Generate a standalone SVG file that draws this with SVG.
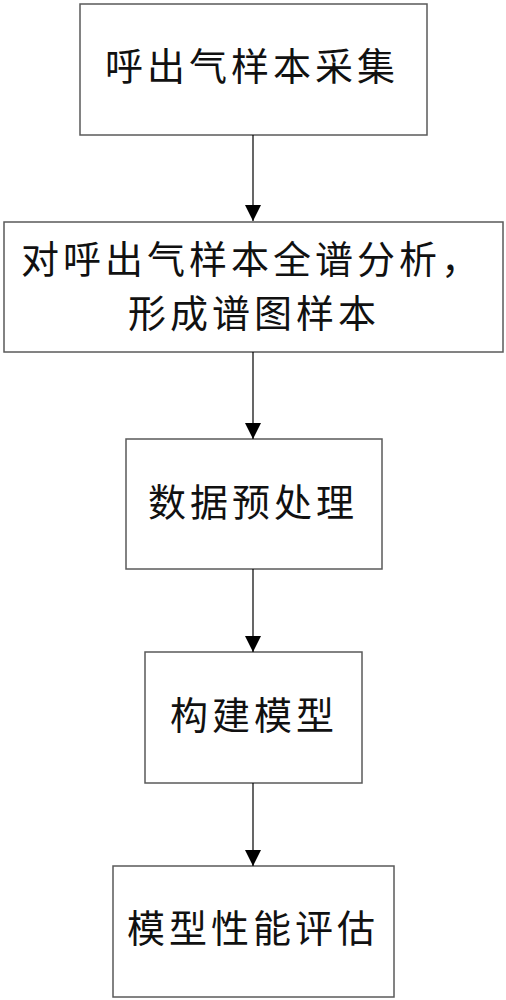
<svg xmlns="http://www.w3.org/2000/svg" width="506" height="1000" viewBox="0 0 506 1000">
<style>
.box{fill:#fff;stroke:#5a5a5a;stroke-width:1.5}
.t{font-family:"Noto Sans CJK SC","Noto Sans CJK JP",sans-serif;font-size:38px;letter-spacing:4px;fill:#111}
.c{stroke:#000;stroke-width:1.2;fill:none}
</style>
<defs>
<marker id="ah" markerUnits="userSpaceOnUse" markerWidth="18" markerHeight="18" refX="16" refY="8" orient="auto">
<path d="M0,0 L16,8 L0,16 Z" fill="#000"/>
</marker>
</defs>
<rect width="506" height="1000" fill="#fff"/>
<g id="n1"><rect class="box" x="80" y="4" width="347" height="131"/><text class="t" x="105" y="80">呼出气样本采集</text></g>
<g id="n2"><rect class="box" x="4" y="222" width="499" height="130"/><text class="t" x="21" y="273">对呼出气样本全谱分析，</text><text class="t" x="128" y="327">形成谱图样本</text></g>
<g id="n3"><rect class="box" x="126" y="439" width="256" height="130"/><text class="t" x="148" y="516">数据预处理</text></g>
<g id="n4"><rect class="box" x="145" y="652" width="217" height="131"/><text class="t" x="170" y="729">构建模型</text></g>
<g id="n5"><rect class="box" x="113" y="866" width="281" height="131"/><text class="t" x="127" y="942">模型性能评估</text></g>
<g id="connectors">
<line class="c" x1="253" y1="135" x2="253" y2="221" marker-end="url(#ah)"/>
<line class="c" x1="253" y1="352" x2="253" y2="439" marker-end="url(#ah)"/>
<line class="c" x1="253" y1="569" x2="253" y2="652" marker-end="url(#ah)"/>
<line class="c" x1="253" y1="783" x2="253" y2="866" marker-end="url(#ah)"/>
</g>
</svg>
